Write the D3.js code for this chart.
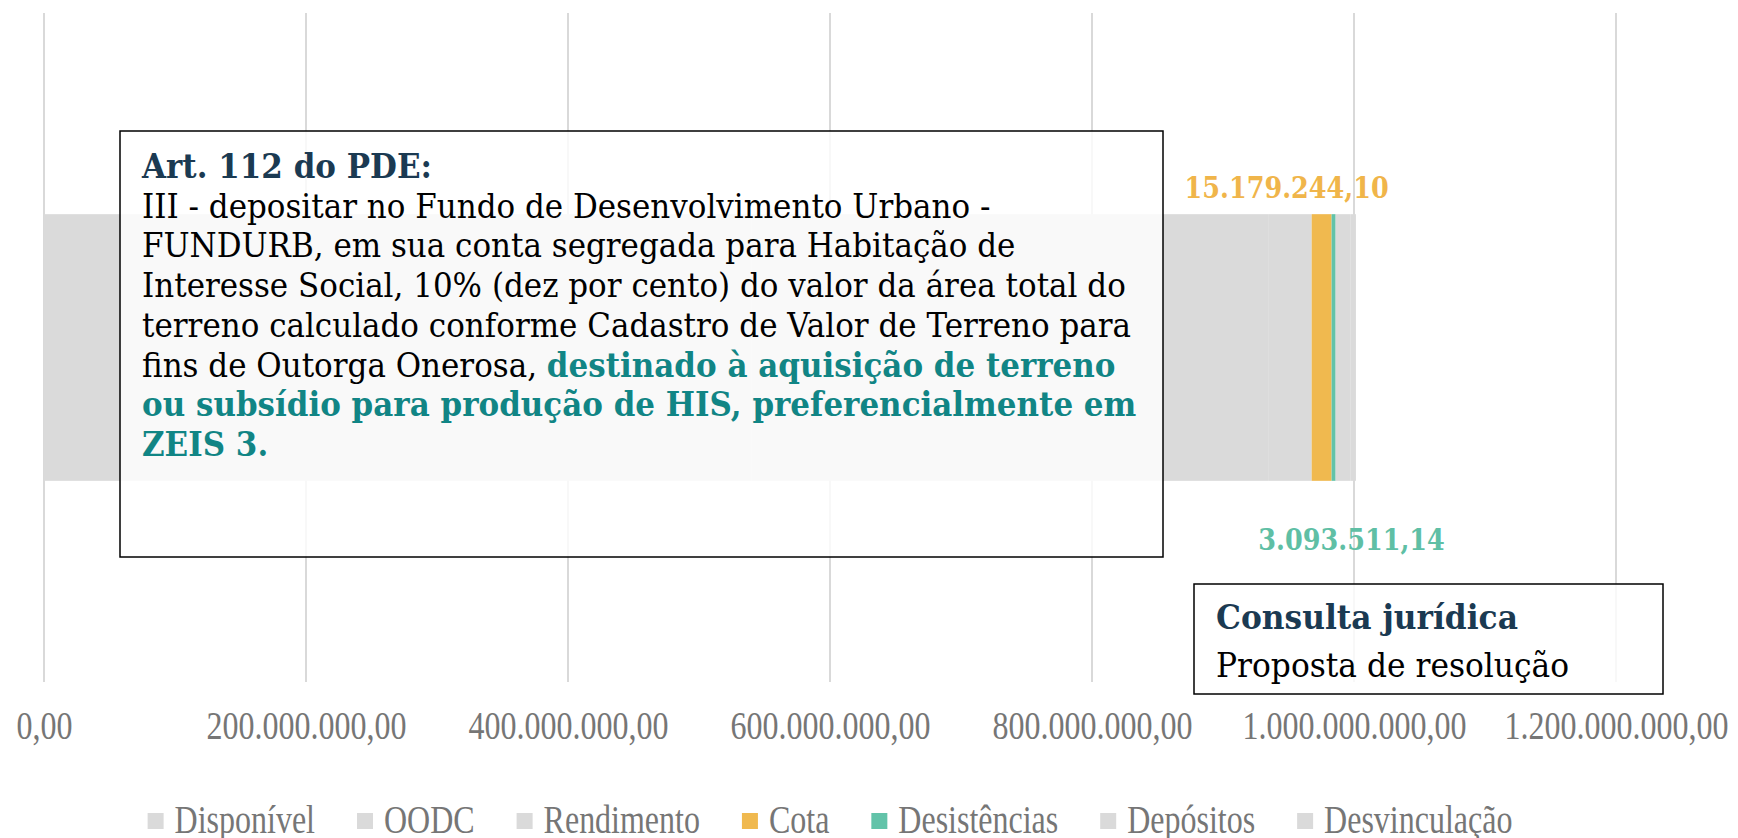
<!DOCTYPE html>
<html>
<head>
<meta charset="utf-8">
<script src="https://cdn.jsdelivr.net/npm/d3@7"></script>
<style>
  body { margin: 0; background: #fff; }
  svg { display: block; }
</style>
</head>
<body>
<div id="chart"></div>
<script>
// dados
const categories = ['FUNDURB'];
const seriesNames = ['Disponível', 'OODC', 'Rendimento', 'Cota', 'Desistências', 'Depósitos', 'Desvinculação'];
const seriesValues = [540000000, 395000000, 32700000, 15179244.10, 3093511.14, 11500000, 4000000];
const labelledSeries = ['Cota', 'Desistências'];
const xTicks = [0, 200000000, 400000000, 600000000, 800000000, 1000000000, 1200000000];

const colors = {
  'Disponível': '#dadada', 'OODC': '#dadada', 'Rendimento': '#dadada',
  'Cota': '#f0b94f', 'Desistências': '#62c3a9',
  'Depósitos': '#dadada', 'Desvinculação': '#dadada'
};

const width = 1738, height = 838;
const margin = {top: 13, right: 122, bottom: 156, left: 44};
const cw = width - margin.left - margin.right;
const ch = height - margin.top - margin.bottom;

const br = d3.formatLocale({decimal: ',', thousands: '.', grouping: [3], currency: ['', '']});
const fmt = br.format(',.2f');

// condensa o texto horizontalmente
const squeeze = (sel, k) => sel.each(function() {
  const w = this.getComputedTextLength();
  d3.select(this).attr('textLength', w * k).attr('lengthAdjust', 'spacingAndGlyphs');
});

const svg = d3.select('#chart').append('svg').attr('width', width).attr('height', height);
const g = svg.append('g').attr('transform', `translate(${margin.left}, ${margin.top})`);

const x = d3.scaleLinear().domain([0, 1200000000]).range([0, cw]);
const y = d3.scaleBand().domain(categories).range([0, ch]).padding(0.43);

// grade
g.append('g').selectAll('line').data(xTicks).join('line')
  .attr('x1', d => x(d)).attr('x2', d => x(d))
  .attr('y1', 0).attr('y2', ch)
  .attr('stroke', '#d9d9d9').attr('stroke-width', 2);

// eixo x
const xAxis = g.append('g').attr('transform', `translate(0, ${ch})`)
  .call(d3.axisBottom(x).tickValues(xTicks).tickFormat(fmt).tickSize(0));
xAxis.select('.domain').remove();
xAxis.selectAll('text')
  .attr('y', 57).attr('dy', 0)
  .attr('fill', '#767676')
  .style('font-family', '"Liberation Serif", serif')
  .style('font-size', '39px')
  .call(squeeze, 0.82);

// barras empilhadas
const row = {cat: categories[0]};
seriesNames.forEach((s, i) => row[s] = seriesValues[i]);
const stacked = d3.stack().keys(seriesNames)([row]);

g.append('g').selectAll('rect').data(stacked).join('rect')
  .attr('x', d => x(d[0][0]))
  .attr('width', d => x(d[0][1]) - x(d[0][0]))
  .attr('y', y(categories[0]))
  .attr('height', y.bandwidth())
  .attr('fill', d => colors[d.key]);

// rótulos de valor
const labelOffsets = {'Cota': {dx: -35, dy: -16}, 'Desistências': {dx: 18, dy: 69}};
g.append('g').selectAll('text').data(stacked.filter(d => labelledSeries.includes(d.key))).join('text')
  .attr('x', d => (x(d[0][0]) + x(d[0][1])) / 2 + labelOffsets[d.key].dx)
  .attr('y', d => d.key === 'Cota' ? y(categories[0]) + labelOffsets[d.key].dy
                                   : y(categories[0]) + y.bandwidth() + labelOffsets[d.key].dy)
  .attr('text-anchor', 'middle')
  .attr('fill', d => d.key === 'Cota' ? '#f0b54a' : '#5fbfa5')
  .style('font-family', '"DejaVu Serif", serif')
  .style('font-weight', 'bold')
  .style('font-size', '29px')
  .text(d => fmt(row[d.key]))
  .call(squeeze, 0.88);

// caixas de texto
const navy = '#1b3a52', teal = '#118585';
const box1Lines = [
  [{t: 'Art. 112 do PDE:', b: true, c: navy}],
  [{t: 'III - depositar no Fundo de Desenvolvimento Urbano -'}],
  [{t: 'FUNDURB, em sua conta segregada para Habitação de'}],
  [{t: 'Interesse Social, 10% (dez por cento) do valor da área total do'}],
  [{t: 'terreno calculado conforme Cadastro de Valor de Terreno para'}],
  [{t: 'fins de Outorga Onerosa, '}, {t: 'destinado à aquisição de terreno', b: true, c: teal}],
  [{t: 'ou subsídio para produção de HIS, preferencialmente em', b: true, c: teal}],
  [{t: 'ZEIS 3.', b: true, c: teal}]
];

const drawBox = (bx, by, bw, bh, lines, tx, ty0, lh, fs, targetW, refLine) => {
  const b = svg.append('g');
  b.append('rect').attr('x', bx).attr('y', by).attr('width', bw).attr('height', bh)
    .attr('fill', '#fff').attr('fill-opacity', 0.82)
    .attr('stroke', '#000').attr('stroke-width', 1.5);
  const texts = b.selectAll('text').data(lines).join('text')
    .attr('x', tx).attr('y', (d, i) => ty0 + i * lh)
    .style('font-family', '"DejaVu Serif", serif')
    .style('font-size', fs + 'px');
  texts.selectAll('tspan').data(d => d).join('tspan')
    .attr('fill', d => d.c || '#000')
    .style('font-weight', d => d.b ? 'bold' : 'normal')
    .text(d => d.t);
  const k = targetW / texts.nodes()[refLine].getComputedTextLength();
  texts.call(squeeze, k);
};

drawBox(120, 131, 1043, 426, box1Lines, 142, 178, 39.7, 33, 989, 4);

const box2Lines = [
  [{t: 'Consulta jurídica', b: true, c: navy}],
  [{t: 'Proposta de resolução'}]
];
drawBox(1194, 584, 469, 110, box2Lines, 1216, 629, 48, 33, 353, 1);

// legenda
const legend = svg.append('g');
const items = legend.selectAll('g').data(seriesNames).join('g');
items.append('rect').attr('width', 16).attr('height', 16).attr('y', -20)
  .attr('fill', d => colors[d]);
items.append('text').attr('x', 27)
  .attr('fill', '#767676')
  .style('font-family', '"Liberation Serif", serif')
  .style('font-size', '39px')
  .text(d => d)
  .call(squeeze, 0.82);
let cx = 0;
items.each(function() {
  const w = d3.select(this).select('text').attr('textLength');
  d3.select(this).attr('transform', `translate(${cx}, 0)`);
  cx += 27 + (+w) + 42;
});
cx -= 42;
legend.attr('transform', `translate(${margin.left + cw / 2 - cx / 2}, 833)`);
</script>
</body>
</html>
